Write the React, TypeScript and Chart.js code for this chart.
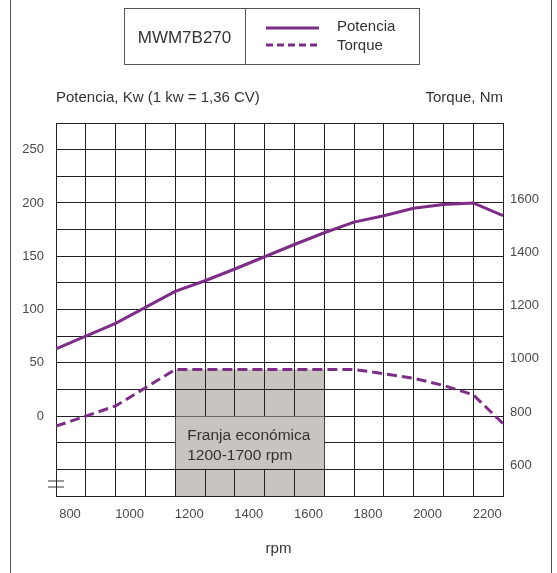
import React, { useEffect, useRef } from "react";
import { Chart, registerables } from "chart.js";

Chart.register(...registerables);

// ---- data ----
const rpm = [800, 900, 1000, 1100, 1200, 1300, 1400, 1500, 1600, 1700, 1800, 1900, 2000, 2100, 2200, 2300];
const potenciaKw = [63, 75, 87, 102, 117, 127, 138, 149.5, 161, 172, 182, 188, 195, 198.5, 200, 188];
const torqueNm = [762, 800, 838, 906, 975, 975, 975, 975, 975, 975, 975, 959, 942, 915, 880, 772];

const xTickLabels = [800, 1000, 1200, 1400, 1600, 1800, 2000, 2200];
const leftTickLabels = [0, 50, 100, 150, 200, 250];
const rightTickLabels = [600, 800, 1000, 1200, 1400, 1600];

const bandRpm = [1200, 1700];
const bandTopNm = 975;
const bandLabelKw = [0, -50];
const bandText = ["Franja económica", "1200-1700 rpm"];

const legendModel = "MWM7B270";
const legendNames = ["Potencia", "Torque"];
const leftTitle = "Potencia, Kw (1 kw = 1,36 CV)";
const rightTitle = "Torque, Nm";
const xTitle = "rpm";

// ---- style ----
const PURPLE = "#7d2d87";
const GRID = "#222222";
const BAND = "#c8c4bf";
const FONT = "'Liberation Sans', Arial, sans-serif";

const bandPlugin = {
  id: "bandPlugin",
  beforeDraw(chart: any) {
    const { ctx, scales, chartArea } = chart;
    const x0 = scales.x.getPixelForValue(bandRpm[0]);
    const x1 = scales.x.getPixelForValue(bandRpm[1]);
    const top = scales.y2.getPixelForValue(bandTopNm);
    ctx.save();
    ctx.fillStyle = BAND;
    ctx.fillRect(x0, top, x1 - x0, chartArea.bottom - top);
    ctx.restore();
  },
  beforeDatasetsDraw(chart: any) {
    const { ctx, scales, chartArea } = chart;
    const x0 = scales.x.getPixelForValue(bandRpm[0]);
    const x1 = scales.x.getPixelForValue(bandRpm[1]);
    const yTop = scales.y.getPixelForValue(bandLabelKw[0]);
    const yBot = scales.y.getPixelForValue(bandLabelKw[1]);
    ctx.save();
    ctx.fillStyle = BAND;
    ctx.fillRect(x0 + 0.5, yTop + 0.5, x1 - x0 - 0.5, yBot - yTop - 1);
    ctx.fillStyle = "#333333";
    ctx.font = `15.5px ${FONT}`;
    ctx.textBaseline = "middle";
    ctx.textAlign = "left";
    ctx.fillText(bandText[0], x0 + 12, yTop + 20);
    ctx.fillText(bandText[1], x0 + 12, yTop + 40);
    // axis break symbol
    ctx.strokeStyle = "#333333";
    ctx.lineWidth = 1.2;
    const l = chartArea.left;
    const b = chartArea.bottom;
    ctx.beginPath();
    ctx.moveTo(l - 8, b - 15);
    ctx.lineTo(l + 8, b - 15);
    ctx.moveTo(l - 8, b - 9);
    ctx.lineTo(l + 8, b - 9);
    ctx.stroke();
    ctx.restore();
  },
};

function ChartCanvas() {
  const ref = useRef<HTMLCanvasElement | null>(null);
  useEffect(() => {
    if (!ref.current) return;
    const tickFont = { family: FONT, size: 13 };
    const chart = new Chart(ref.current, {
      type: "line",
      data: {
        datasets: [
          {
            label: legendNames[0],
            data: rpm.map((r, i) => ({ x: r, y: potenciaKw[i] })),
            borderColor: PURPLE,
            borderWidth: 3,
            pointRadius: 0,
            tension: 0,
            yAxisID: "y",
          },
          {
            label: legendNames[1],
            data: rpm.map((r, i) => ({ x: r, y: torqueNm[i] })),
            borderColor: PURPLE,
            borderWidth: 3,
            borderDash: [10, 5],
            pointRadius: 0,
            tension: 0,
            yAxisID: "y2",
          },
        ],
      },
      options: {
        animation: false,
        responsive: true,
        maintainAspectRatio: false,
        events: [],
        layout: { padding: { top: 123, left: 0, right: 0, bottom: 0 } },
        plugins: { legend: { display: false }, tooltip: { enabled: false } },
        scales: {
          x: {
            type: "linear",
            min: 800,
            max: 2300,
            afterFit: (s: any) => {
              s.height = 77;
            },
            grid: { color: GRID, lineWidth: 1, drawTicks: false },
            border: { color: GRID },
            ticks: {
              stepSize: 100,
              autoSkip: false,
              maxRotation: 0,
              labelOffset: 14,
              padding: 11,
              color: "#4a4a4a",
              font: tickFont,
              callback: (v: any) => (xTickLabels.includes(Number(v)) ? String(v) : ""),
            },
          },
          y: {
            type: "linear",
            position: "left",
            min: -75,
            max: 275,
            afterFit: (s: any) => {
              s.width = 56;
            },
            grid: { color: GRID, lineWidth: 1, drawTicks: false },
            border: { color: GRID },
            ticks: {
              stepSize: 25,
              autoSkip: false,
              padding: 12,
              color: "#4a4a4a",
              font: tickFont,
              callback: (v: any) => (leftTickLabels.includes(Number(v)) ? String(v) : ""),
            },
          },
          y2: {
            type: "linear",
            position: "right",
            min: 500,
            max: 1900,
            afterFit: (s: any) => {
              s.width = 54;
            },
            grid: { display: false, drawTicks: false },
            border: { color: GRID },
            ticks: {
              stepSize: 100,
              autoSkip: false,
              padding: 7,
              labelOffset: -4,
              color: "#4a4a4a",
              font: tickFont,
              callback: (v: any) => (rightTickLabels.includes(Number(v)) ? String(v) : ""),
            },
          },
        },
      },
      plugins: [bandPlugin],
    } as any);
    return () => chart.destroy();
  }, []);
  return <canvas ref={ref} />;
}

export default function App() {
  const text: React.CSSProperties = {
    position: "absolute",
    fontFamily: FONT,
    color: "#333",
    whiteSpace: "nowrap",
    lineHeight: "18px",
  };
  return (
    <div
      style={{
        position: "absolute",
        left: 0,
        top: 0,
        width: 557,
        height: 573,
        background: "#fff",
        overflow: "hidden",
      }}
    >
      <div style={{ position: "absolute", left: 0, top: 0, width: 557, height: 573 }}>
        <ChartCanvas />
      </div>
      {/* outer frame */}
      <div style={{ position: "absolute", left: 10, top: 0, width: 1, height: 573, background: "#555" }} />
      <div style={{ position: "absolute", left: 551, top: 0, width: 1, height: 573, background: "#555" }} />
      {/* legend box */}
      <div
        style={{
          position: "absolute",
          left: 124,
          top: 8,
          width: 296,
          height: 57,
          border: "1px solid #555",
          boxSizing: "border-box",
        }}
      />
      <div style={{ position: "absolute", left: 245, top: 8, width: 1, height: 57, background: "#555" }} />
      <div style={{ ...text, left: 124, width: 121, top: 28, textAlign: "center", fontSize: 17, lineHeight: "20px" }}>
        {legendModel}
      </div>
      <svg style={{ position: "absolute", left: 0, top: 0 }} width={557} height={80}>
        <line x1={266} y1={28} x2={319} y2={28} stroke={PURPLE} strokeWidth={3} />
        <line x1={266} y1={45} x2={319} y2={45} stroke={PURPLE} strokeWidth={3} strokeDasharray="7 4" />
      </svg>
      <div style={{ ...text, left: 337, top: 17, fontSize: 15 }}>{legendNames[0]}</div>
      <div style={{ ...text, left: 337, top: 36, fontSize: 15 }}>{legendNames[1]}</div>
      {/* axis titles */}
      <div style={{ ...text, left: 56, top: 88, fontSize: 15 }}>{leftTitle}</div>
      <div style={{ ...text, right: 54, top: 88, fontSize: 15 }}>{rightTitle}</div>
      <div style={{ ...text, left: 0, width: 557, textAlign: "center", top: 539, fontSize: 15 }}>{xTitle}</div>
    </div>
  );
}
